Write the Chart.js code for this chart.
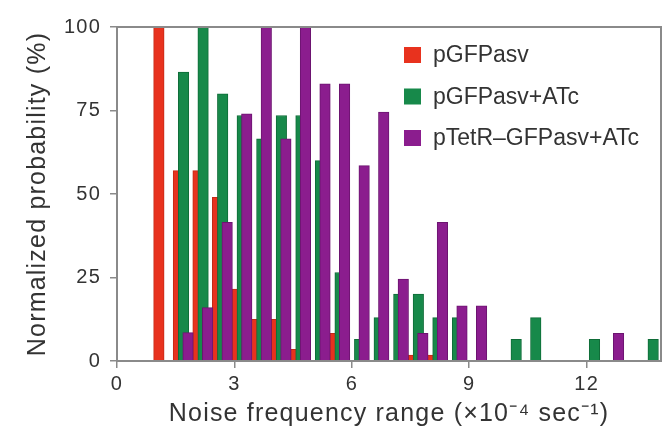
<!DOCTYPE html>
<html>
<head>
<meta charset="utf-8">
<script src="https://cdn.jsdelivr.net/npm/chart.js@4.4.1/dist/chart.umd.min.js"></script>
<style>
  html, body { margin: 0; padding: 0; background: #fff; }
  #wrap { width: 672px; height: 440px; }
</style>
</head>
<body>
<div id="wrap"><canvas id="myChart"></canvas></div>
<script>
// bin centres, noise frequency range (x10^-4 sec^-1)
const bins = [1.2, 1.7, 2.2, 2.7, 3.2, 3.7, 4.2, 4.7, 5.2, 5.7, 6.2, 6.7, 7.2,
              7.7, 8.2, 8.7, 9.2, 9.7, 10.2, 10.7, 11.2, 11.7, 12.2, 12.7, 13.2, 13.7];

const seriesNames = ['pGFPasv', 'pGFPasv+ATc', 'pTetR\u2013GFPasv+ATc'];

// normalized probability (%) per bin
const pGFPasv    = [100, 57, 57, 49, 21.5, 12.5, 12.5, 3.5, 0, 8.3, 0, 0, 0,
                    1.8, 1.8, 0, 0, 0, 0, 0, 0, 0, 0, 0, 0, 0];
const pGFPasvATc = [0, 86.5, 100, 80, 73.5, 66.5, 73.5, 73.5, 60, 26.5, 6.5, 13, 20,
                    20, 13, 13, 0, 0, 6.5, 13, 0, 0, 6.5, 0, 0, 6.5];
const pTetRATc   = [0, 8.5, 16, 41.5, 74, 100, 66.5, 100, 83, 83, 58.5, 74.5, 24.5,
                    8.3, 41.5, 16.5, 16.5, 0, 0, 0, 0, 0, 0, 8.3, 0, 0];

const xTicks = [0, 3, 6, 9, 12];
const yTicks = [0, 25, 50, 75, 100];

const FONT = "'Liberation Sans', Arial, Helvetica, sans-serif";
const TEXT = '#333';
const AXIS = '#8a8a8a';

// bars of one bin overlap, each series nudged a little
function makeSet(i, values, fill, edge, shift) {
  return {
    label: seriesNames[i],
    data: bins.map((b, k) => ({ x: b + shift, y: values[k] || null })),
    backgroundColor: fill,
    borderColor: edge,
    borderWidth: 1,
    barThickness: 10.5,
    grouped: false,
    order: 3 - i   // purple on top, red at the back
  };
}

// frame round the plot + legend inside it
const framePlugin = {
  id: 'frame',
  beforeDraw(chart) {
    chart.ctx.letterSpacing = '1.2px';
  },
  afterDraw(chart) {
    const { ctx, chartArea: a } = chart;
    ctx.save();
    ctx.strokeStyle = AXIS;
    ctx.lineWidth = 2;
    ctx.strokeRect(a.left, a.top, a.right - a.left, a.bottom - a.top);

    ctx.letterSpacing = '0px';
    ctx.font = '23px ' + FONT;
    ctx.textBaseline = 'middle';
    const x0 = a.right - 257;
    chart.data.datasets.forEach((ds, i) => {
      const y = a.top + 28 + i * 41.5;
      ctx.fillStyle = ds.backgroundColor;
      ctx.fillRect(x0, y - 8, 17, 16);
      ctx.fillStyle = TEXT;
      ctx.fillText(ds.label, x0 + 29, y + 1);
    });
    ctx.restore();
  }
};

const ctx = document.getElementById('myChart').getContext('2d');
const chart = new Chart(ctx, {
  type: 'bar',
  data: {
    datasets: [
      makeSet(0, pGFPasv, '#e8321e', '#c42a16', -0.13),
      makeSet(1, pGFPasvATc, '#17894a', '#0f6c38', 0),
      makeSet(2, pTetRATc, '#8b1d8e', '#6c1470', 0.115)
    ]
  },
  options: {
    responsive: true,
    maintainAspectRatio: false,
    animation: false,
    layout: { padding: { top: 27, right: 11, left: 0, bottom: 0 } },
    plugins: {
      legend: { display: false },
      tooltip: { enabled: false }
    },
    scales: {
      x: {
        type: 'linear',
        min: 0,
        max: 13.9,
        offset: false,
        afterBuildTicks: s => { s.ticks = xTicks.map(v => ({ value: v })); },
        afterFit: s => { s.height = 79; },
        grid: { offset: false, drawOnChartArea: false, tickLength: 7, color: AXIS, lineWidth: 1.5 },
        border: { color: AXIS, width: 2 },
        ticks: { font: { family: FONT, size: 20 }, color: TEXT, padding: 4, maxRotation: 0 },
        title: {
          display: true,
          text: 'Noise frequency range (\u00D710\u207B\u2074 sec\u207B\u00B9)',
          font: { family: FONT, size: 25 },
          color: TEXT,
          padding: { top: 0, bottom: 10.5 }
        }
      },
      y: {
        min: 0,
        max: 100,
        afterBuildTicks: s => { s.ticks = yTicks.map(v => ({ value: v })); },
        afterFit: s => { s.width = 117; },
        grid: { drawOnChartArea: false, tickLength: 7, color: AXIS, lineWidth: 1.5 },
        border: { color: AXIS, width: 2 },
        ticks: { font: { family: FONT, size: 20 }, color: TEXT, padding: 9 },
        title: {
          display: true,
          text: 'Normalized probability (%)',
          font: { family: FONT, size: 25 },
          color: TEXT,
          padding: { top: 23, bottom: 0 }
        }
      }
    }
  },
  plugins: [framePlugin]
});
</script>
</body>
</html>
